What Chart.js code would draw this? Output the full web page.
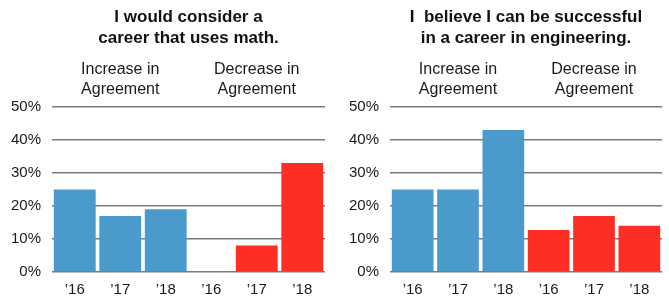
<!DOCTYPE html>
<html>
<head>
<meta charset="utf-8">
<script src="https://cdn.jsdelivr.net/npm/chart.js@4"></script>
<style>
  html, body { margin: 0; padding: 0; background: #fff; }
  #wrap { position: relative; width: 669px; height: 297px; }
  #c1 { position: absolute; left: 0; top: 0; }
  #c2 { position: absolute; left: 335px; top: 0; }
</style>
</head>
<body>
<div id="wrap">
  <canvas id="c1" width="335" height="297"></canvas>
  <canvas id="c2" width="334" height="297"></canvas>
</div>
<script>
// ---- data ----
const categories = ["’16", "’17", "’18", "’16", "’17", "’18"];
const groupLabels = [["Increase in", "Agreement"], ["Decrease in", "Agreement"]];
const mathTitle = ["I would consider a", "career that uses math."];
const engTitle = ["I  believe I can be successful", "in a career in engineering."];
const mathValues = [25, 17, 19, 0, 8, 33];
const engValues = [25, 25, 43, 12.7, 17, 14];
const yTicks = [0, 10, 20, 30, 40, 50];

const BLUE = "#4a9bcb";
const RED = "#ff2e24";
const FONT = "'Liberation Sans', Arial, Helvetica, sans-serif";
const barColors = categories.map((c, i) => i < 3 ? BLUE : RED);

const headerPlugin = {
  id: "header",
  afterDraw(chart, args, opts) {
    const ctx = chart.ctx;
    const area = chart.chartArea;
    const xs = chart.scales.x;
    ctx.save();
    ctx.fillStyle = "#111";
    ctx.textAlign = "center";
    ctx.textBaseline = "alphabetic";
    ctx.font = "bold 17px " + FONT;
    const cx = (area.left + area.right) / 2;
    ctx.fillText(opts.title[0], cx, 22);
    ctx.fillText(opts.title[1], cx, 43);
    ctx.font = "16px " + FONT;
    ctx.fillStyle = "#1a1a1a";
    const g1 = (xs.getPixelForValue(0) + xs.getPixelForValue(2)) / 2;
    const g2 = (xs.getPixelForValue(3) + xs.getPixelForValue(5)) / 2;
    [g1, g2].forEach((gx, i) => {
      ctx.fillText(groupLabels[i][0], gx, 73.5);
      ctx.fillText(groupLabels[i][1], gx, 93.5);
    });
    ctx.restore();
  }
};

function makeChart(id, values, title, padRight) {
  return new Chart(document.getElementById(id), {
    type: "bar",
    data: {
      labels: categories,
      datasets: [{
        data: values,
        backgroundColor: barColors,
        borderWidth: 0,
        barPercentage: 0.92,
        categoryPercentage: 1.0
      }]
    },
    options: {
      responsive: false,
      animation: false,
      layout: { padding: { top: 107, right: padRight, left: 0, bottom: 0 } },
      plugins: {
        legend: { display: false },
        tooltip: { enabled: false },
        header: { title: title }
      },
      scales: {
        x: {
          grid: { display: false, drawTicks: false },
          border: { display: false },
          ticks: { color: "#1a1a1a", font: { family: FONT, size: 15 }, padding: 9, maxRotation: 0 },
          afterFit(scale) { scale.height = 25; }
        },
        y: {
          min: 0, max: 50,
          afterBuildTicks(scale) { scale.ticks = yTicks.map(v => ({ value: v })); },
          grid: { color: "#7a7a7a", lineWidth: 1.5, drawTicks: false },
          border: { display: false },
          ticks: {
            color: "#1a1a1a", font: { family: FONT, size: 15 }, padding: 11,
            callback: v => v + "%"
          },
          afterFit(scale) { scale.width = scale.chart.canvas.id === "c1" ? 52 : 55; }
        }
      }
    },
    plugins: [headerPlugin]
  });
}

makeChart("c1", mathValues, mathTitle, 10);
makeChart("c2", engValues, engTitle, 7);
</script>
</body>
</html>
